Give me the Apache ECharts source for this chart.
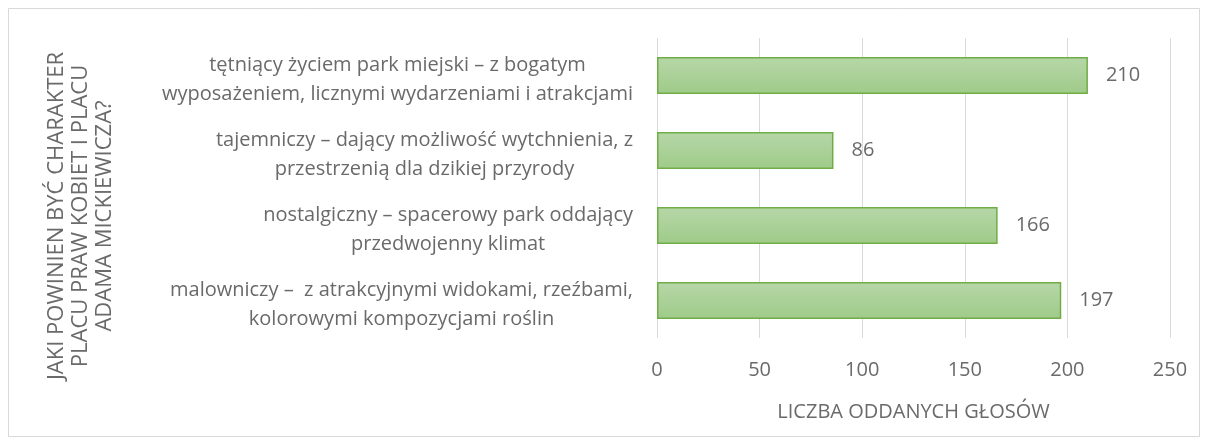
<!DOCTYPE html>
<html>
<head>
<meta charset="utf-8">
<script src="https://cdn.jsdelivr.net/npm/echarts@6/dist/echarts.min.js"></script>
<style>
  html, body { margin: 0; padding: 0; background: #fff; }
  #chart { width: 1208px; height: 445px; }
</style>
</head>
<body>
<div id="chart"></div>
<script>
// categories bottom -> top (as on the axis)
var categories = [
  'malowniczy –  z atrakcyjnymi widokami, rzeźbami,\nkolorowymi kompozycjami roślin',
  'nostalgiczny – spacerowy park oddający\nprzedwojenny klimat',
  'tajemniczy – dający możliwość wytchnienia, z\nprzestrzenią dla dzikiej przyrody',
  'tętniący życiem park miejski – z bogatym\nwyposażeniem, licznymi wydarzeniami i atrakcjami'
];
var votes = [197, 166, 86, 210];
var xTicks = [0, 50, 100, 150, 200, 250];

var yTitle = 'JAKI POWINIEN BYĆ CHARAKTER\nPLACU PRAW KOBIET I PLACU\nADAMA MICKIEWICZA?';
var xTitle = 'LICZBA ODDANYCH GŁOSÓW';

var grey = '#6a6a6a';
var font = 'Open Sans';

var chart = echarts.init(document.getElementById('chart'));

var option = {
  backgroundColor: '#fff',
  animation: false,
  textStyle: { fontFamily: font },
  graphic: [{
    type: 'rect',
    shape: { x: 8.5, y: 8.5, width: 1191, height: 428 },
    style: { fill: 'none', stroke: '#d9d9d9', lineWidth: 1 },
    silent: true
  }],
  grid: { left: 657, right: 38, top: 38, bottom: 107, containLabel: false, outerBoundsMode: 'none' },
  xAxis: {
    type: 'value',
    min: xTicks[0],
    max: xTicks[xTicks.length - 1],
    interval: xTicks[1] - xTicks[0],
    name: xTitle,
    nameLocation: 'middle',
    nameGap: 64,
    nameTextStyle: { color: grey, fontSize: 20, fontFamily: font },
    axisLine: { show: false },
    axisTick: { show: false },
    axisLabel: { color: grey, fontSize: 20, margin: 22, fontFamily: font },
    splitLine: { show: true, lineStyle: { color: '#d9d9d9', width: 1 } }
  },
  yAxis: {
    type: 'category',
    data: categories,
    name: yTitle,
    nameLocation: 'middle',
    nameRotate: 90,
    nameGap: 540,
    nameTextStyle: { color: grey, fontSize: 22, fontFamily: font, lineHeight: 24, align: 'center', padding: [0, 56, 0, 0] },
    axisLine: { show: false },
    axisTick: { show: false },
    axisLabel: {
      color: grey,
      fontSize: 20,
      lineHeight: 29,
      margin: 24,
      padding: [8, 0, 0, 0],
      fontFamily: font,
      formatter: function (v) {
        return v.split('\n').map(function (l) { return '{c|' + l + '}'; }).join('\n');
      },
      rich: { c: { align: 'center', color: grey, fontSize: 20, lineHeight: 29, fontFamily: font } }
    }
  },
  series: [{
    type: 'bar',
    data: votes,
    barWidth: 37,
    itemStyle: {
      color: new echarts.graphic.LinearGradient(0, 0, 0, 1, [
        { offset: 0, color: '#b6d7a8' },
        { offset: 1, color: '#9fcb89' }
      ]),
      borderColor: '#70ad47',
      borderWidth: 1.5
    },
    label: {
      show: true,
      position: 'right',
      distance: 18,
      color: grey,
      fontSize: 20,
      fontFamily: font
    }
  }]
};

chart.setOption(option);
</script>
</body>
</html>
